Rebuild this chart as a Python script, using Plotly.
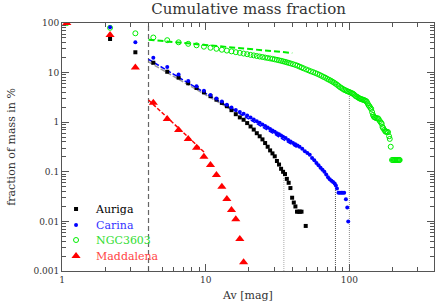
import plotly.graph_objects as go

# ---------------- data ----------------
auriga_av = [1.08, 2.16, 3.24, 4.32, 5.40, 6.48, 7.56, 8.64, 9.72, 10.8, 11.88, 12.96, 14.04,
             15.12, 16.2, 17.28, 18.36, 19.44, 20.52, 21.6, 22.68, 23.76, 24.84, 25.92, 27.0,
             28.08, 29.16, 30.24, 31.32, 32.4, 33.48, 34.56, 35.64, 36.72, 37.8, 38.88, 39.96,
             41.04, 42.12, 43.2, 44.28, 45.36, 46.44, 49.68]
auriga_frac = [100, 47.6, 25.7, 15.8, 10.4, 7.9, 6.1, 4.9, 4.0, 3.35, 2.85, 2.45, 2.1,
               1.75, 1.45, 1.25, 1.12, 0.96, 0.82, 0.71, 0.6, 0.52, 0.45, 0.38, 0.32,
               0.27, 0.235, 0.205, 0.165, 0.14, 0.115, 0.1, 0.09, 0.072, 0.06, 0.047, 0.03,
               0.024, 0.02, 0.0157, 0.0157, 0.0157, 0.0157, 0.0081]

carina_av = [1.08, 2.16, 3.24, 4.32, 5.40, 6.48, 7.56, 8.64, 9.72, 10.8, 11.88, 12.96, 14.04,
             15.12, 16.2, 17.28, 18.36, 19.44, 20.52, 21.6, 22.68, 23.76, 24.84, 25.92, 27.0,
             28.08, 29.16, 30.24, 31.32, 32.4, 33.48, 34.56, 36, 37.5, 39, 40.5, 42, 43.5, 45,
             47, 49, 51, 53, 55, 57, 59, 61, 63, 65, 67, 69, 71, 73, 75, 77, 79, 80.5, 82,
             84, 86, 88, 90, 92, 94.6, 96.7, 98.2]
carina_frac = [100, 82, 40.8, 20, 13, 9.2, 6.8, 5.3, 4.3, 3.55, 3.0, 2.6, 2.25,
               1.98, 1.76, 1.6, 1.48, 1.36, 1.25, 1.14, 1.05, 0.97, 0.9, 0.84, 0.78,
               0.73, 0.68, 0.64, 0.6, 0.57, 0.54, 0.51, 0.48, 0.44, 0.41, 0.38, 0.36, 0.34, 0.32,
               0.29, 0.26, 0.24, 0.22, 0.19, 0.17, 0.15, 0.135, 0.12, 0.11, 0.1, 0.088, 0.078,
               0.071, 0.066, 0.062, 0.058, 0.053, 0.046, 0.038, 0.038, 0.038, 0.038, 0.038,
               0.028, 0.019, 0.0099]

ngc_av = [1.08, 2.16, 3.24, 4.32, 5.40, 6.48, 7.56, 8.64, 9.72, 10.8, 11.88, 12.96, 14.04,
          15.12, 16.2, 17.28, 18.36, 19.44, 20.52, 21.6, 22.68, 23.76, 24.84, 25.92, 27.0,
          28.08, 29.16, 30.24, 31.32, 32.4, 33.48, 34.56, 35.64, 36.72, 37.8, 39, 40.5, 42,
          43.5, 45, 46.5, 48, 50, 52, 54, 56, 58, 60, 62, 64, 66, 68, 70, 72, 74, 76, 78, 80,
          82, 84, 86, 88, 90, 92, 94, 96, 98, 100, 102, 104, 106, 108, 110, 112, 114, 116,
          118, 120, 122, 124, 126, 128, 130, 132, 134, 136, 138, 140, 142, 144, 146, 148,
          150, 152, 155, 158, 160, 163, 166, 168, 170, 172, 175, 178, 180, 183, 186, 189,
          191, 194, 198, 201, 204, 207, 210, 213, 216, 219, 222, 224]
ngc_frac = [100, 80, 62, 51, 45, 40.8, 38, 35.5, 33.3, 31.7, 30.2, 28.9, 27.8,
            26.8, 25.8, 25, 24.2, 23.5, 22.8, 22.2, 21.6, 21.1, 20.6, 20.1, 19.7,
            19.3, 18.9, 18.5, 18.1, 17.7, 17.3, 16.9, 16.5, 16.1, 15.7, 15.3, 14.8, 14.3,
            13.8, 13.2, 12.7, 12.2, 11.6, 11.1, 10.6, 10.2, 9.8, 9.4, 9.0, 8.6, 8.2, 7.9, 7.5,
            7.2, 6.9, 6.6, 6.3, 6.0, 5.7, 5.4, 5.1, 4.9, 4.7, 4.5, 4.4, 4.25, 4.15, 4.05,
            3.95, 3.85, 3.75, 3.6, 3.4, 3.3, 3.2, 3.1, 3.0, 2.95, 2.9, 2.85, 2.8, 2.75, 2.7,
            2.6, 2.4, 2.2, 2.1, 1.95, 1.85, 1.6, 1.4, 1.29, 1.25, 1.23, 1.2, 1.2, 1.15, 1.05,
            0.98, 0.93, 0.8, 0.76, 0.7, 0.65, 0.64, 0.64, 0.63, 0.52, 0.46, 0.32,
            0.173, 0.173, 0.173, 0.173, 0.173, 0.173, 0.173, 0.173, 0.173, 0.173]

madd_av = [1.08, 2.16, 3.24, 4.32, 5.40, 6.48, 7.56, 8.64, 9.72, 10.8, 11.88, 12.96, 14.04,
           15.12, 16.2, 17.28, 18.36]
madd_frac = [100, 57, 12.6, 2.47, 1.16, 0.70, 0.46, 0.306, 0.20, 0.137, 0.086, 0.050, 0.0283,
             0.017, 0.011, 0.0044, 0.0015]

# power-law fits (end points)
fit_ngc_av, fit_ngc_frac = [4, 40], [46, 24.9]
fit_car_av, fit_car_frac = [4, 43], [18.5, 0.31]
fit_aur_av, fit_aur_frac = [4, 15], [16.5, 1.8]
fit_mad_av, fit_mad_frac = [4, 9.9], [2.8, 0.24]

# threshold / marker lines
thresh_av = 4
dotted_av = [35, 80, 100]
dotted_top = [0.08, 0.046, 4.5]
dotted_colors = ["#aaaaaa", "#555555", "#888888"]

x_major = [1, 10, 100]
x_major_text = ["1", "10", "100"]
x_minor = [2, 3, 4, 5, 6, 7, 8, 9, 20, 30, 40, 50, 60, 70, 80, 90, 200, 300]
y_major = [0.001, 0.01, 0.1, 1, 10, 100]
y_major_text = ["0.001", "0.01", "0.1", "1", "10", "100"]
y_minor = [0.002, 0.003, 0.004, 0.005, 0.006, 0.007, 0.008, 0.009,
           0.02, 0.03, 0.04, 0.05, 0.06, 0.07, 0.08, 0.09,
           0.2, 0.3, 0.4, 0.5, 0.6, 0.7, 0.8, 0.9,
           2, 3, 4, 5, 6, 7, 8, 9, 20, 30, 40, 50, 60, 70, 80, 90]

FONT = "DejaVu Serif"
AX = "#555555"
TXT = "#333333"

fig = go.Figure()

# vertical threshold line
fig.add_trace(go.Scatter(x=[thresh_av, thresh_av], y=[0.001, 100], mode="lines",
                         line=dict(color="#666666", width=1.2, dash="5px,3px"),
                         showlegend=False, hoverinfo="skip"))
for xv, yt, c in zip(dotted_av, dotted_top, dotted_colors):
    fig.add_trace(go.Scatter(x=[xv, xv], y=[0.001, yt], mode="lines",
                             line=dict(color=c, width=1, dash="1px,1px"),
                             showlegend=False, hoverinfo="skip"))

# fits
fig.add_trace(go.Scatter(x=fit_ngc_av, y=fit_ngc_frac, mode="lines",
                         line=dict(color="#00ee00", width=2, dash="6px,3px"),
                         showlegend=False, hoverinfo="skip"))
fig.add_trace(go.Scatter(x=fit_aur_av, y=fit_aur_frac, mode="lines",
                         line=dict(color="#999999", width=1.5, dash="5px,2px"),
                         showlegend=False, hoverinfo="skip"))
fig.add_trace(go.Scatter(x=fit_car_av, y=fit_car_frac, mode="lines",
                         line=dict(color="#0000ff", width=1.5, dash="5px,2px"),
                         showlegend=False, hoverinfo="skip"))
fig.add_trace(go.Scatter(x=fit_mad_av, y=fit_mad_frac, mode="lines",
                         line=dict(color="#ff0000", width=1.5, dash="4px,2px"),
                         showlegend=False, hoverinfo="skip"))

# data (each series has its own single-entry legend so entries can sit close together)
fig.add_trace(go.Scatter(x=auriga_av, y=auriga_frac, mode="markers", legend="legend",
                         name="<span style='color:#000000'>Auriga</span>",
                         marker=dict(symbol="square", size=4, color="#000000", line=dict(width=0))))
fig.add_trace(go.Scatter(x=ngc_av, y=ngc_frac, mode="markers", legend="legend3",
                         name="<span style='color:#33dd33'>NGC3603</span>",
                         marker=dict(symbol="circle-open", size=5, color="#00ee00", line=dict(width=1))))
fig.add_trace(go.Scatter(x=carina_av, y=carina_frac, mode="markers", legend="legend2",
                         name="<span style='color:#3333ff'>Carina</span>",
                         marker=dict(symbol="circle", size=4, color="#0000ff", line=dict(width=0))))
fig.add_trace(go.Scatter(x=madd_av, y=madd_frac, mode="markers", legend="legend4",
                         name="<span style='color:#ff4444'>Maddalena</span>",
                         marker=dict(symbol="triangle-up", size=8, color="#ff0000", line=dict(width=0))))

axis_common = dict(type="log", showline=True, linecolor=AX, linewidth=1, mirror="allticks",
                   ticks="inside", ticklen=7, tickcolor=AX, showgrid=False, zeroline=False,
                   tickfont=dict(family=FONT, size=9, color=TXT))

def leg(ypix):
    return dict(x=-0.016, y=(271 - ypix) / 248, xanchor="left", yanchor="middle",
                bgcolor="rgba(0,0,0,0)", borderwidth=0,
                font=dict(family=FONT, size=11), itemwidth=30)

fig.update_layout(
    width=436, height=302,
    margin=dict(l=62, r=2, t=23, b=31),
    paper_bgcolor="white", plot_bgcolor="white",
    font=dict(family=FONT, color=TXT),
    title=dict(text="Cumulative mass fraction", x=0.57, xanchor="center", y=0.97, yanchor="middle",
               font=dict(family=FONT, size=15, color=TXT)),
    xaxis=dict(axis_common, range=[0, 2.589], tickmode="array", tickvals=x_major, ticktext=x_major_text,
               minor=dict(tickmode="array", tickvals=x_minor, ticks="inside", ticklen=4,
                          tickcolor=AX, showgrid=False),
               title=dict(text="Av [mag]", font=dict(family=FONT, size=11, color=TXT), standoff=10),
               automargin=False),
    yaxis=dict(axis_common, range=[-3, 2], tickmode="array", tickvals=y_major, ticktext=y_major_text,
               minor=dict(tickmode="array", tickvals=y_minor, ticks="inside", ticklen=4,
                          tickcolor=AX, showgrid=False),
               title=dict(text="fraction of mass in %", font=dict(family=FONT, size=11, color=TXT), standoff=15),
               automargin=False),
    legend=leg(209), legend2=leg(225), legend3=leg(240), legend4=leg(256),
    showlegend=True,
)

fig.write_html("out.html", config={"displayModeBar": False},
               post_script="document.body.style.margin='0px';")
